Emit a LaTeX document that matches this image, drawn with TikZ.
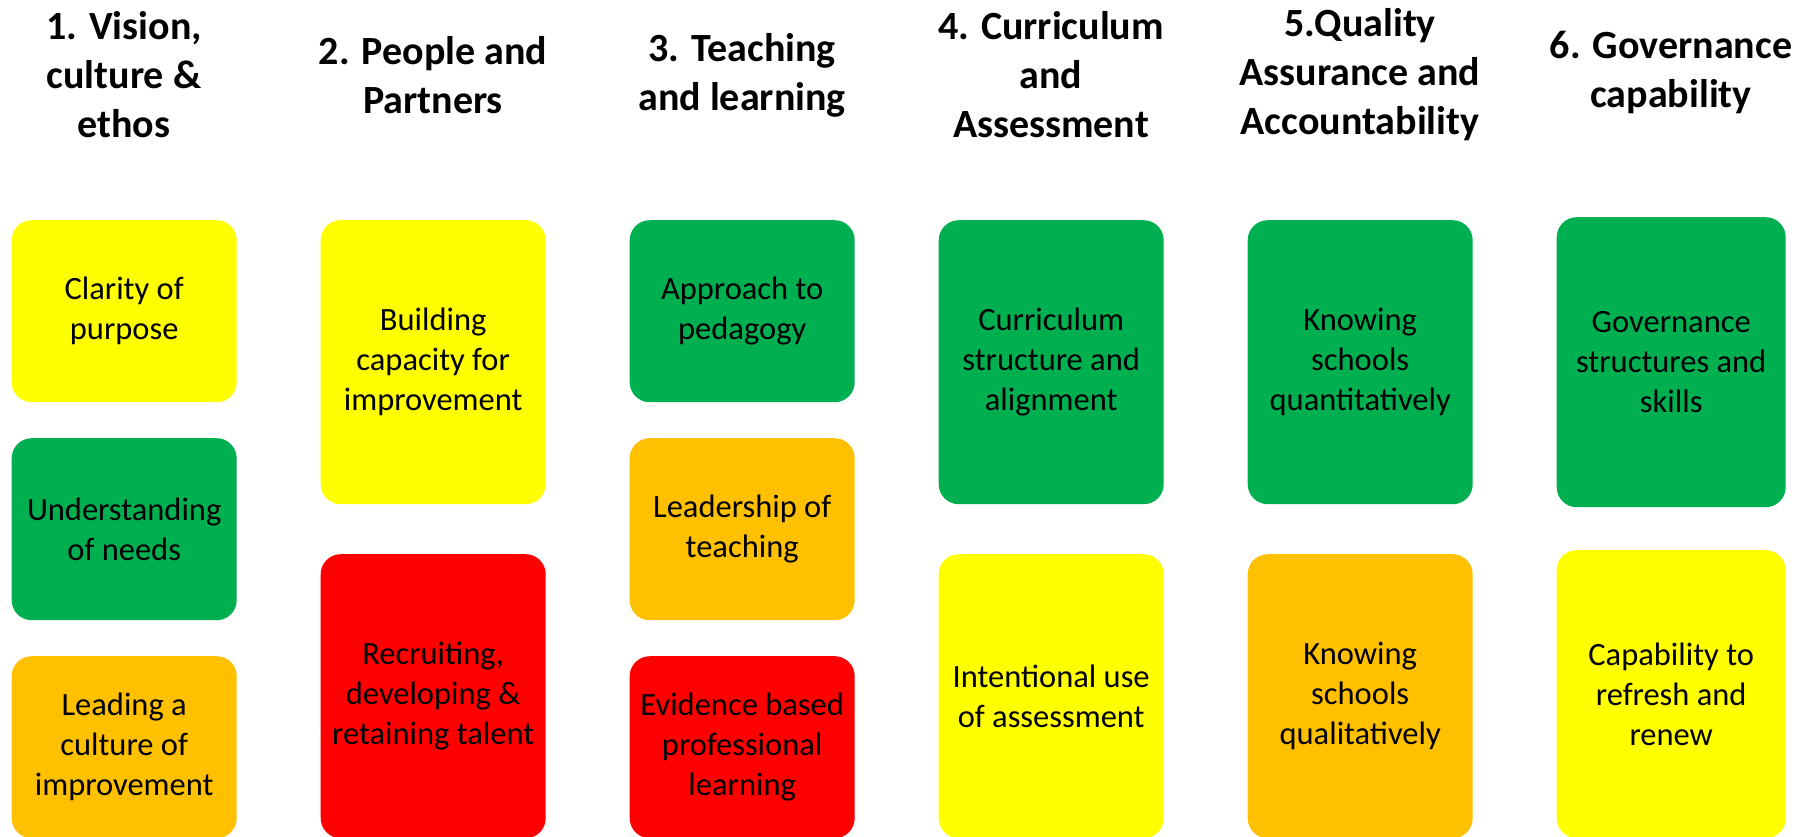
\documentclass[tikz,border=0pt]{standalone}
\usepackage{fontspec}
\setmainfont{Carlito}

% traffic-light fills
\definecolor{ragred}{HTML}{FF0000}
\definecolor{ragamber}{HTML}{FFC000}
\definecolor{ragyellow}{HTML}{FFFF00}
\definecolor{raggreen}{HTML}{00B050}

\tikzset{
  card/.style={rounded corners=20pt, anchor=north west, inner sep=0pt,
    minimum width=225pt, align=center,
    font=\fontsize{32.5}{40}\selectfont},
  short/.style={minimum height=182pt},
  tall/.style={minimum height=284pt},
  heading/.style={align=center, inner sep=0pt,
    font=\bfseries\fontsize{40}{49}\selectfont},
}

\begin{document}
\begin{tikzpicture}[x=1pt, y=-1pt]
    % Page frame
    \useasboundingbox (0,0) rectangle (1798,836);

    % Column headings
    \node[heading] (hvis) at (124,75)  {1. Vision,\\culture \&\\ethos};
    \node[heading] (hppl) at (433,75)  {2. People and\\Partners};
    \node[heading] (htl)  at (742,75)  {3. Teaching\\and learning};
    \node[heading] (hcur) at (1051,75) {4. Curriculum\\and\\Assessment};
    \node[heading] (hqa)  at (1360,75) {5.Quality\\Assurance and\\Accountability};
    \node[heading] (hgov) at (1671,72) {6. Governance\\capability};

    % 1 - three cards
    \node[card, short, fill=ragyellow] (vis1) at (11.5,220) {Clarity of\\purpose};
    \node[card, short, fill=raggreen]  (vis2) at (11.5,438) {Understanding\\of needs};
    \node[card, short, fill=ragamber]  (vis3) at (11.5,656) {Leading a\\culture of\\improvement};

    % 2 - two cards
    \node[card, tall, fill=ragyellow] (ppl1) at (320.5,220) {Building\\capacity for\\improvement};
    \node[card, tall, fill=ragred]    (ppl2) at (320.5,554) {Recruiting,\\developing \&\\retaining talent};

    % 3 - three cards
    \node[card, short, fill=raggreen] (tl1) at (629.5,220) {Approach to\\pedagogy};
    \node[card, short, fill=ragamber] (tl2) at (629.5,438) {Leadership of\\teaching};
    \node[card, short, fill=ragred]   (tl3) at (629.5,656) {Evidence based\\professional\\learning};

    % 4 - two cards
    \node[card, tall, fill=raggreen]  (cur1) at (938.5,220) {Curriculum\\structure and\\alignment};
    \node[card, tall, fill=ragyellow] (cur2) at (938.5,554) {Intentional use\\of assessment};

    % 5 - two cards
    \node[card, tall, fill=raggreen] (qa1) at (1247.5,220) {Knowing\\schools\\quantitatively};
    \node[card, tall, fill=ragamber] (qa2) at (1247.5,554) {Knowing\\schools\\qualitatively};

    % 6 - two cards, a little wider
    \node[card, minimum width=229pt, minimum height=290pt, fill=raggreen]
      (gov1) at (1556.5,217) {Governance\\structures and\\skills};
    \node[card, minimum width=229pt, minimum height=288pt, fill=ragyellow]
      (gov2) at (1556.5,550) {Capability to\\refresh and\\renew};
\end{tikzpicture}
\end{document}
